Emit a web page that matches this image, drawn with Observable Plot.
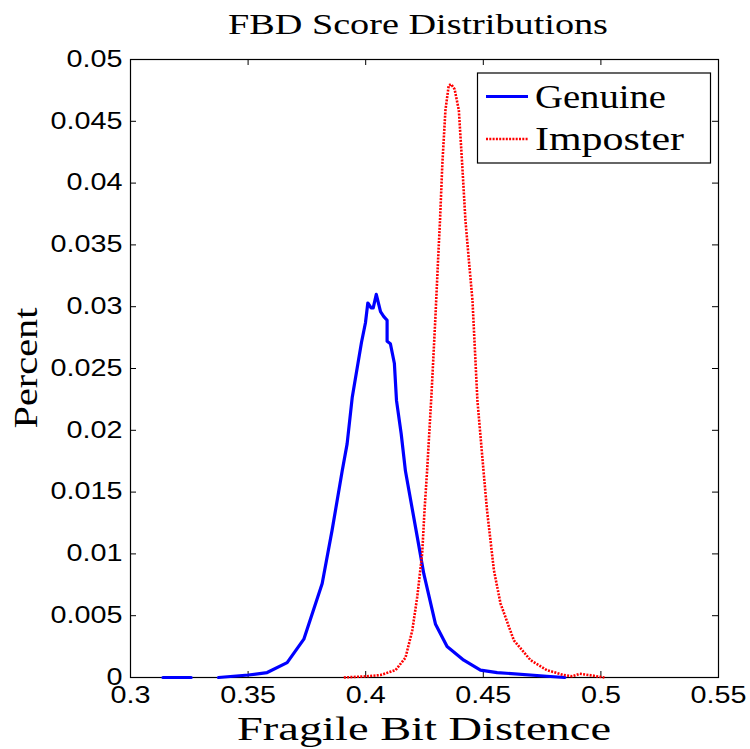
<!DOCTYPE html>
<html><head><meta charset="utf-8">
<script src="https://cdn.jsdelivr.net/npm/d3@7"></script>
<script src="https://cdn.jsdelivr.net/npm/@observablehq/plot@0.6"></script>
<style>body{margin:0;background:#fff}#chart{position:relative;width:750px;height:749px}</style>
</head><body><div id="chart"></div>
<script>
// ---- data ----
const genuineX = [0.3138,0.3258,0.3310,0.3374,0.3501,0.3581,0.3666,0.3737,0.3815,0.3857,0.3900,0.3921,0.3943,0.3982,0.3999,0.4009,0.4023,0.4032,0.4045,0.4063,0.4077,0.4091,0.4091,0.4105,0.4122,0.4131,0.4151,0.4169,0.4219,0.4247,0.4297,0.4346,0.4417,0.4488,0.4559,0.4770,0.4847];
const genuineY = [0,0,null,0,0.0002,0.0004,0.0012,0.0031,0.0076,0.0119,0.0167,0.0189,0.0227,0.0271,0.0287,0.0303,0.0299,0.0299,0.0310,0.0296,0.0292,0.0289,0.0272,0.0270,0.0254,0.0224,0.0197,0.0167,0.0114,0.0084,0.0043,0.0025,0.0014,0.0006,0.0004,0.0001,0];
const imposterX = [0.3907,0.4006,0.4063,0.4127,0.4169,0.4198,0.4219,0.4240,0.4250,0.4261,0.4280,0.4296,0.4308,0.4316,0.4326,0.4339,0.4353,0.4363,0.4378,0.4396,0.4410,0.4424,0.4438,0.4454,0.4475,0.4501,0.4516,0.4545,0.4573,0.4630,0.4701,0.4770,0.4842,0.4878,0.4910,0.4950,0.5015];
const imposterY = [0,0.0001,0.0002,0.0006,0.0016,0.0038,0.0065,0.0100,0.0135,0.0167,0.0230,0.0290,0.0339,0.0370,0.0416,0.0459,0.0479,0.0480,0.0476,0.0459,0.0416,0.0370,0.0339,0.0305,0.0224,0.0167,0.0135,0.0087,0.0060,0.0030,0.0014,0.0006,0.0002,0.0001,0.0003,0.0002,0];
const xTicks = [0.3,0.35,0.4,0.45,0.5,0.55];
const xTickLabels = ["0.3","0.35","0.4","0.45","0.5","0.55"];
const yTicks = [0,0.005,0.01,0.015,0.02,0.025,0.03,0.035,0.04,0.045,0.05];
const yTickLabels = ["0","0.005","0.01","0.015","0.02","0.025","0.03","0.035","0.04","0.045","0.05"];
const seriesNames = ["Genuine","Imposter"];
const seriesColors = ["#0000ff","#ff0000"];
const titleText = "FBD Score Distributions";
const xLabelText = "Fragile Bit Distence";
const yLabelText = "Percent";

const genuine = genuineX.map((x,i)=>({x, y: genuineY[i]}));
const imposter = imposterX.map((x,i)=>({x, y: imposterY[i]}));

// ---- layout ----
const W=750,H=749,mL=130,mR=32,mT=59,mB=72;
const fw=W-mL-mR, fh=H-mT-mB, tickLen=6;
const dash = "2,1.3";

const svgEl = Plot.plot({
  width:W, height:H, marginLeft:mL, marginRight:mR, marginTop:mT, marginBottom:mB,
  x:{domain:[0.3,0.55]}, y:{domain:[0,0.05]},
  style:{fontFamily:"'Liberation Sans', Arial, sans-serif", background:"white", color:"black"},
  marks:[
    Plot.frame({stroke:"black", strokeWidth:1.2}),
    Plot.tickX(xTicks,{x:d=>d, insetTop:fh-tickLen, stroke:"black", strokeWidth:1}),
    Plot.tickX(xTicks,{x:d=>d, insetBottom:fh-tickLen, stroke:"black", strokeWidth:1}),
    Plot.tickY(yTicks,{y:d=>d, insetRight:fw-tickLen, stroke:"black", strokeWidth:1}),
    Plot.tickY(yTicks,{y:d=>d, insetLeft:fw-tickLen, stroke:"black", strokeWidth:1}),
    Plot.axisX({ticks:xTicks, tickSize:0, tickPadding:9, fontSize:23, label:null,
      tickFormat:d=>xTickLabels[xTicks.indexOf(d)]}),
    Plot.axisY({ticks:yTicks, tickSize:0, tickPadding:8, fontSize:23, label:null,
      tickFormat:d=>yTickLabels[yTicks.indexOf(d)]}),
    Plot.line(genuine,{x:"x",y:"y",stroke:seriesColors[0],strokeWidth:3.2}),
    Plot.line(imposter,{x:"x",y:"y",stroke:seriesColors[1],strokeWidth:2.6,strokeDasharray:dash,
      strokeLinecap:"butt", strokeLinejoin:"miter"})
  ]
});
document.getElementById("chart").appendChild(svgEl);
const svg = d3.select(svgEl);

// stretch tick labels horizontally (MATLAB export look)
svg.selectAll("g[aria-label='x-axis tick label'] text, g[aria-label='y-axis tick label'] text").each(function(){
  const len = this.getComputedTextLength();
  d3.select(this).attr("textLength", len*1.25).attr("lengthAdjust","spacingAndGlyphs");
});

const serif = "'Liberation Serif','Times New Roman',serif";
// title
svg.append("text").attr("x",418).attr("y",34).attr("text-anchor","middle")
  .style("font-family",serif).style("font-size","30px")
  .attr("fill","black").text(titleText)
  .attr("textLength",380).attr("lengthAdjust","spacingAndGlyphs");

// x label
svg.append("text").attr("x",mL+fw/2).attr("y",740).attr("text-anchor","middle")
  .style("font-family",serif).style("font-size","33px").attr("fill","black").text(xLabelText)
  .attr("textLength",374).attr("lengthAdjust","spacingAndGlyphs");
// y label
svg.append("text").attr("transform",`translate(37,${mT+fh/2}) rotate(-90)`).attr("text-anchor","middle")
  .style("font-family",serif).style("font-size","33px").attr("fill","black").text(yLabelText)
  .attr("textLength",121).attr("lengthAdjust","spacingAndGlyphs");

// legend
const lg = svg.append("g");
lg.append("rect").attr("x",477.5).attr("y",73).attr("width",233).attr("height",90)
  .attr("fill","white").attr("stroke","black").attr("stroke-width",1.2);
const rows=[96.5,139];
const legendLens=[131,149];
seriesNames.forEach((name,i)=>{
  lg.append("line").attr("x1",486).attr("x2",528).attr("y1",rows[i]).attr("y2",rows[i])
    .attr("stroke",seriesColors[i]).attr("stroke-width",i===0?3.2:2.6)
    .attr("stroke-linecap","butt")
    .attr("stroke-dasharray",i===0?null:dash);
  lg.append("text").attr("x",535).attr("y",rows[i]+11).attr("text-anchor","start")
    .style("font-family",serif).style("font-size","33px").attr("fill","black").text(name)
    .attr("textLength",legendLens[i]).attr("lengthAdjust","spacingAndGlyphs");
});
</script>
</body></html>
